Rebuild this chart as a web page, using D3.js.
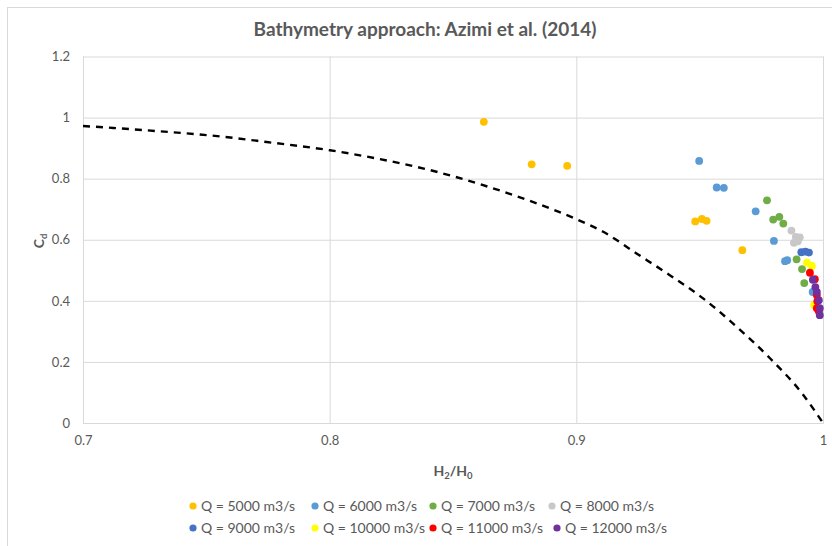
<!DOCTYPE html>
<html>
<head>
<meta charset="utf-8">
<script src="https://cdn.jsdelivr.net/npm/d3@7"></script>
<style>
  html, body { margin: 0; padding: 0; background: #fff; }
  svg { display: block; font-family: Lato, "Open Sans", sans-serif; }
</style>
</head>
<body>
<svg id="chart" width="832" height="546"></svg>
<script>
// Discharge coefficient Cd against submergence ratio H2/H0, per discharge Q
const seriesLabels = ["Q = 5000 m3/s", "Q = 6000 m3/s", "Q = 7000 m3/s", "Q = 8000 m3/s",
                      "Q = 9000 m3/s", "Q = 10000 m3/s", "Q = 11000 m3/s", "Q = 12000 m3/s"];
const seriesColors = ["#FFC000", "#5B9BD5", "#70AD47", "#C8C8C8",
                      "#4472C4", "#FFFF00", "#FF0000", "#7030A0"];

const q5000 = [[0.8625, 0.986], [0.8819, 0.847], [0.8963, 0.842], [0.9482, 0.660],
               [0.9509, 0.668], [0.9528, 0.662], [0.9673, 0.566]];
const q6000 = [[0.9498, 0.858], [0.9569, 0.771], [0.9598, 0.770], [0.9727, 0.693],
               [0.9801, 0.596], [0.9846, 0.530], [0.9855, 0.533], [0.9958, 0.429]];
const q7000 = [[0.9773, 0.729], [0.9798, 0.666], [0.9823, 0.675], [0.9839, 0.653],
               [0.9893, 0.536], [0.9915, 0.504], [0.9924, 0.458]];
const q8000 = [[0.9872, 0.630], [0.9890, 0.609], [0.9906, 0.608], [0.9882, 0.590],
               [0.9898, 0.595]];
const q9000 = [[0.9912, 0.559], [0.9929, 0.561], [0.9943, 0.558]];
const q10000 = [[0.9935, 0.525], [0.9955, 0.514], [0.9964, 0.386]];
const q11000 = [[0.9947, 0.492], [0.9967, 0.471], [0.9975, 0.419], [0.9977, 0.399],
                [0.9975, 0.376], [0.9983, 0.366]];
const q12000 = [[0.9959, 0.469], [0.9969, 0.445], [0.9975, 0.429], [0.9983, 0.402],
                [0.9987, 0.376], [0.9987, 0.353]];
const seriesData = [q5000, q6000, q7000, q8000, q9000, q10000, q11000, q12000];

// Reference curve (dashed)
const curveX = [0.700, 0.7123, 0.7312, 0.7555, 0.7745, 0.8001, 0.8204, 0.8407, 0.8609,
                0.8812, 0.9001, 0.9109, 0.9244, 0.9379, 0.9514, 0.9650, 0.9785, 0.9920, 1.000];
const curveY = [0.9725, 0.966, 0.955, 0.9385, 0.920, 0.893, 0.864, 0.828, 0.782,
                0.727, 0.667, 0.626, 0.555, 0.484, 0.408, 0.315, 0.212, 0.092, 0.000];

const xTicks = [0.7, 0.8, 0.9, 1.0];
const yTicks = [0, 0.2, 0.4, 0.6, 0.8, 1.0, 1.2];

const svg = d3.select("#chart");
const grey = "#595959";
const gridColor = "#D9D9D9";

// chart frame
svg.append("rect").attr("x", 7.5).attr("y", 7.5).attr("width", 900).attr("height", 600)
  .attr("fill", "#fff").attr("stroke", gridColor).attr("stroke-width", 1);

const x = d3.scaleLinear().domain([0.7, 1.0]).range([83, 823]);
const y = d3.scaleLinear().domain([0, 1.2]).range([423, 56.5]);
const fmt = d => String(+d.toFixed(1));

// gridlines and tick labels
const gx = svg.append("g").attr("transform", "translate(0,423)")
  .call(d3.axisBottom(x).tickValues(xTicks).tickFormat(fmt).tickSize(-(423 - 56.5)).tickPadding(13));
const gy = svg.append("g").attr("transform", "translate(83,0)")
  .call(d3.axisLeft(y).tickValues(yTicks).tickFormat(fmt).tickSize(-(823 - 83)).tickPadding(13));
[gx, gy].forEach(g => {
  g.select(".domain").attr("stroke", gridColor);
  g.selectAll(".tick line").attr("stroke", gridColor).attr("stroke-width", 1);
  g.selectAll(".tick text").attr("fill", grey).style("font-size", "13px")
    .style("font-family", "Lato, sans-serif");
});
gy.select(".domain").remove();

// title
svg.append("text").attr("x", 425).attr("y", 36).attr("text-anchor", "middle")
  .attr("fill", grey).style("font-size", "19px").style("font-weight", "bold")
  .text("Bathymetry approach: Azimi et al. (2014)");

// axis titles
const xt = svg.append("text").attr("x", 453).attr("y", 476).attr("text-anchor", "middle")
  .attr("fill", grey).style("font-size", "14px").style("font-weight", "bold");
xt.append("tspan").text("H");
xt.append("tspan").text("2").style("font-size", "9.5px").attr("dy", 3);
xt.append("tspan").text("/H").attr("dy", -3);
xt.append("tspan").text("0").style("font-size", "9.5px").attr("dy", 3);

const yt = svg.append("text").attr("transform", "translate(44,241) rotate(-90)")
  .attr("text-anchor", "middle").attr("fill", grey)
  .style("font-size", "14px").style("font-weight", "bold");
yt.append("tspan").text("C");
yt.append("tspan").text("d").style("font-size", "9.5px").attr("dy", 3);

// dashed reference curve
const line = d3.line().x(d => x(d[0])).y(d => y(d[1])).curve(d3.curveMonotoneX);
svg.append("path").datum(curveX.map((v, i) => [v, curveY[i]]))
  .attr("d", line).attr("fill", "none").attr("stroke", "#000")
  .attr("stroke-width", 2.4).attr("stroke-dasharray", "7,6");

// scatter points
seriesData.forEach((pts, i) => {
  svg.append("g").selectAll("circle").data(pts).join("circle")
    .attr("cx", d => x(d[0])).attr("cy", d => y(d[1])).attr("r", 3.9)
    .attr("fill", seriesColors[i]);
});

// legend
const legendX = [193, 315, 433, 552, 193, 315, 433, 557];
const legendRow = [506, 506, 506, 506, 528, 528, 528, 528];
seriesLabels.forEach((lab, i) => {
  const g = svg.append("g").attr("transform", `translate(${legendX[i]},${legendRow[i]})`);
  g.append("circle").attr("r", 3.6).attr("fill", seriesColors[i]);
  g.append("text").attr("x", 8).attr("y", 5).attr("fill", grey)
    .style("font-size", "14px").text(lab);
});
</script>
</body>
</html>
